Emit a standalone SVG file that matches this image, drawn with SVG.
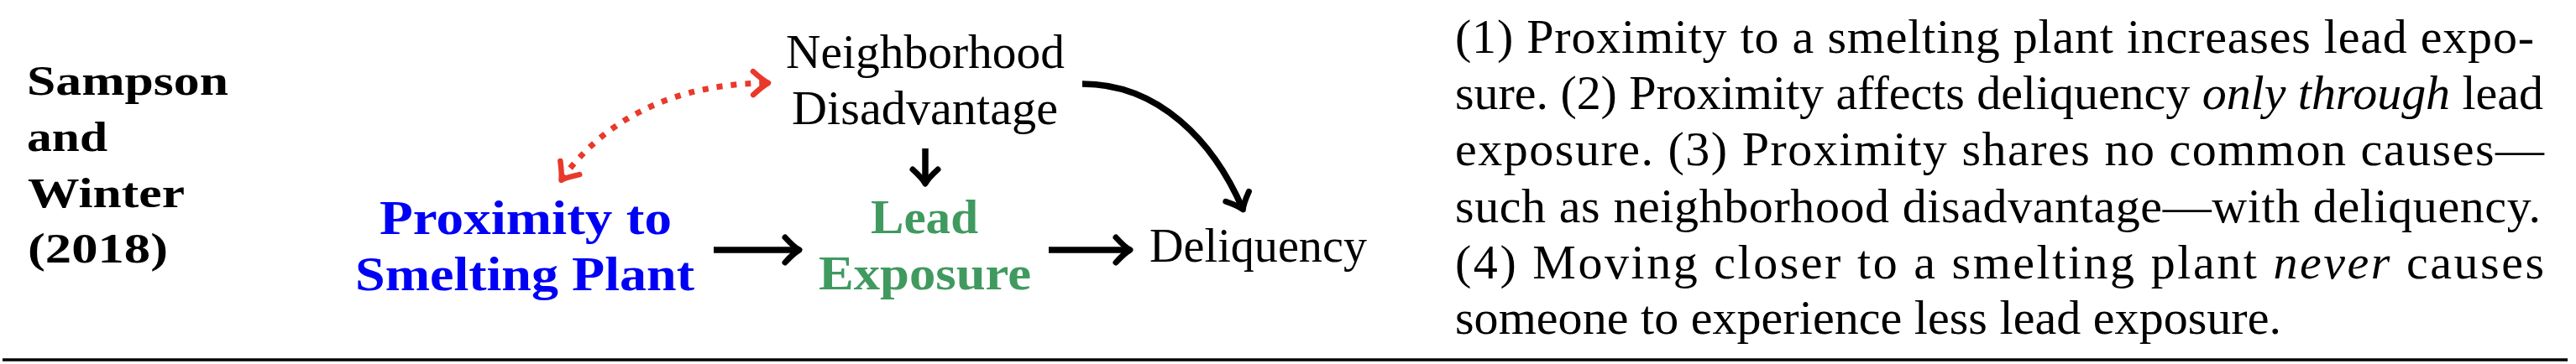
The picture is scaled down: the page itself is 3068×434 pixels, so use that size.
<svg xmlns="http://www.w3.org/2000/svg" width="3068" height="434" viewBox="0 0 3068 434">
<defs>
<style>
text{font-family:"Liberation Serif","Times New Roman",serif;}
.lbl{font-size:50px;font-weight:bold;fill:#000;}
.node{font-size:57px;fill:#000;}
.bold{font-weight:bold;}
.blue{fill:#0000F5;}
.green{fill:#409A5F;}
.para{font-size:58px;fill:#000;}
.edge{fill:none;stroke:#000;stroke-width:7.5;stroke-linecap:butt;}
.conf{fill:none;stroke:#E8392B;stroke-width:7;stroke-dasharray:7 10;}
</style>
<marker id="cmk" markerUnits="userSpaceOnUse" orient="auto" markerWidth="40" markerHeight="40" refX="0" refY="0" viewBox="-20 -20 40 40" overflow="visible">
<path d="M-16,-15 Q-5,-3 1,0 Q-5,3 -16,15" fill="none" stroke="#000" stroke-width="7" stroke-linecap="round" stroke-linejoin="round"/>
</marker>
<marker id="rmk" markerUnits="userSpaceOnUse" orient="auto-start-reverse" markerWidth="40" markerHeight="40" refX="0" refY="0" viewBox="-20 -20 40 40" overflow="visible">
<path d="M-17,-14 Q-5,-3 1,0 Q-5,3 -17,14" fill="none" stroke="#E8392B" stroke-width="6.5" stroke-dasharray="none" stroke-linecap="round" stroke-linejoin="round"/>
</marker>
</defs>
<rect x="0" y="0" width="3068" height="434" fill="#fff"/>
<g id="study-label">
<text class="lbl" x="32" y="113" textLength="240" lengthAdjust="spacingAndGlyphs">Sampson</text>
<text class="lbl" x="32" y="180" textLength="96" lengthAdjust="spacingAndGlyphs">and</text>
<text class="lbl" x="33" y="247" textLength="187" lengthAdjust="spacingAndGlyphs">Winter</text>
<text class="lbl" x="33" y="313" textLength="167" lengthAdjust="spacingAndGlyphs">(2018)</text>
</g>
<g id="node-proximity">
<text class="node bold blue" x="626" y="279" text-anchor="middle" textLength="348" lengthAdjust="spacingAndGlyphs">Proximity to</text>
<text class="node bold blue" x="625" y="346" text-anchor="middle" textLength="404" lengthAdjust="spacingAndGlyphs">Smelting Plant</text>
</g>
<g id="node-neighborhood">
<text class="node" x="1102" y="81" text-anchor="middle" textLength="332" lengthAdjust="spacingAndGlyphs">Neighborhood</text>
<text class="node" x="1101.5" y="148" text-anchor="middle" textLength="317" lengthAdjust="spacingAndGlyphs">Disadvantage</text>
</g>
<g id="node-lead">
<text class="node bold green" x="1101" y="278" text-anchor="middle" textLength="128" lengthAdjust="spacingAndGlyphs">Lead</text>
<text class="node bold green" x="1101.5" y="345" text-anchor="middle" textLength="253" lengthAdjust="spacingAndGlyphs">Exposure</text>
</g>
<g id="node-deliquency">
<text class="node" x="1369" y="312" textLength="259" lengthAdjust="spacingAndGlyphs">Deliquency</text>
</g>
<g id="connectors">
<path class="edge" d="M850,298 L951,298" marker-end="url(#cmk)"/>
<path class="edge" d="M1249,298 L1345,298" marker-end="url(#cmk)"/>
<path class="edge" d="M1102,177 L1102,218" marker-end="url(#cmk)"/>
<path class="edge" d="M1289,100 C1380,100 1445,168 1480,249" marker-end="url(#cmk)"/>
<path class="conf" d="M669,214 C700,170 770,100 914,99" marker-start="url(#rmk)" marker-end="url(#rmk)"/>
</g>
<g id="assumptions">
<text class="para" x="1733" y="63" textLength="1285" lengthAdjust="spacing">(1) Proximity to a smelting plant increases lead expo-</text>
<text class="para" x="1733" y="130" textLength="1296" lengthAdjust="spacing">sure. (2) Proximity affects deliquency <tspan font-style="italic">only through</tspan> lead</text>
<text class="para" x="1733" y="197" textLength="1297" lengthAdjust="spacing">exposure.  (3) Proximity shares no common causes—</text>
<text class="para" x="1733" y="265" textLength="1293" lengthAdjust="spacing">such as neighborhood disadvantage—with deliquency.</text>
<text class="para" x="1733" y="332" textLength="1297" lengthAdjust="spacing">(4) Moving closer to a smelting plant <tspan font-style="italic">never</tspan> causes</text>
<text class="para" x="1733" y="398" textLength="984" lengthAdjust="spacing">someone to experience less lead exposure.</text>
</g>
<line id="rule" x1="3" y1="429" x2="3058" y2="429" stroke="#000" stroke-width="3.5"/>
</svg>
